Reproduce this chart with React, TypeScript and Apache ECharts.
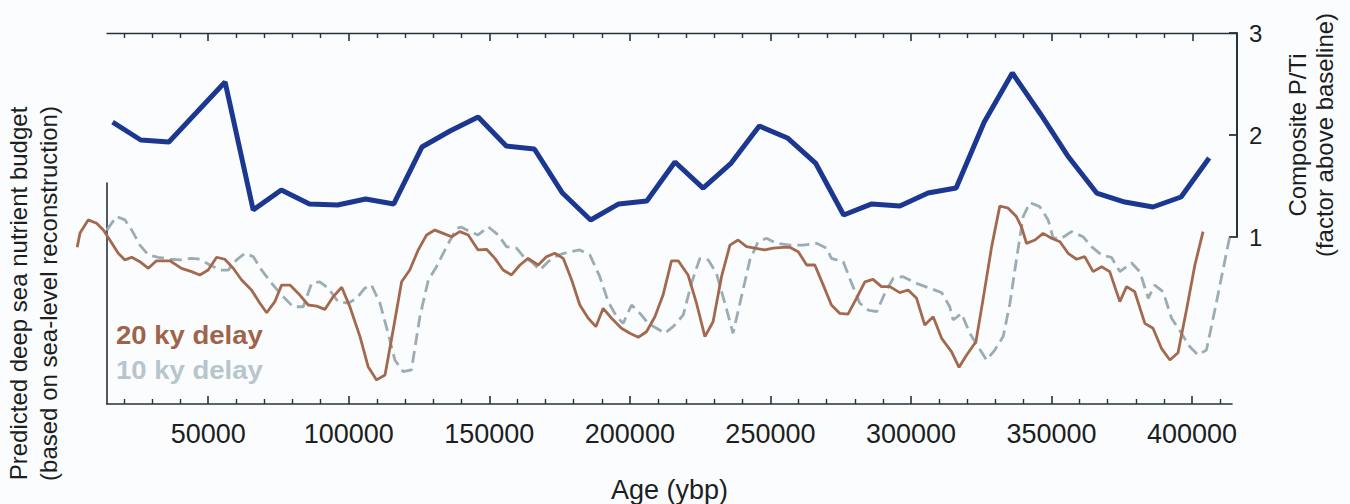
import React, { useEffect, useRef } from "react";
import * as echarts from "echarts";

const FONT = "'Liberation Sans', Arial, Helvetica, sans-serif";
const AXIS_COLOR = "#26333a";
const TEXT_COLOR = "#1b1f22";

// Age axis ticks (ybp)
const majorTicks = [50000, 100000, 150000, 200000, 250000, 300000, 350000, 400000];
const bottomMinorTicks = [
  20000, 30000, 40000, 60000, 70000, 80000, 90000, 110000, 120000, 130000, 140000,
  160000, 170000, 180000, 190000, 210000, 220000, 230000, 240000, 260000, 270000, 280000,
  290000, 310000, 320000, 330000, 340000, 360000, 370000, 380000, 390000, 410000,
];
const topMinorTicks = [
  20000, 30000, 40000, 60000, 70000, 80000, 90000, 110000, 120000, 130000, 140000,
  160000, 170000, 180000, 190000, 210000, 220000, 230000, 240000, 260000, 270000, 280000,
  290000, 310000, 320000, 330000, 340000, 360000, 370000, 380000, 390000,
];

// Composite P/Ti (factor above baseline)
const ptiAges = [
  16000, 26000, 36000, 46000, 56000, 66000, 76000, 86000, 96000, 106000, 116000, 126000,
  136000, 146000, 156000, 166000, 176000, 186000, 196000, 206000, 216000, 226000, 236000,
  246000, 256000, 266000, 276000, 286000, 296000, 306000, 316000, 326000, 336000, 346000,
  356000, 366000, 376000, 386000, 396000, 406000,
];
const ptiValues = [
  2.127, 1.951, 1.931, 2.225, 2.52, 1.265, 1.461, 1.324, 1.314, 1.373, 1.324, 1.882,
  2.039, 2.176, 1.892, 1.863, 1.431, 1.167, 1.324, 1.353, 1.735, 1.48, 1.725,
  2.088, 1.971, 1.725, 1.216, 1.324, 1.304, 1.431, 1.48, 2.127, 2.608, 2.206,
  1.784, 1.431, 1.343, 1.294, 1.392, 1.775,
];

// Predicted deep sea nutrient budget, 20 ky delay (relative units)
const delay20Ages = [
  3400, 4400, 7300, 10300, 12700, 15000, 18000, 20400, 22800, 25700, 28700, 31600, 36400,
  40500, 44100, 47000, 50000, 53000, 55900, 58900, 61900, 65400, 68400, 70800, 73700, 76100,
  79100, 82600, 85600, 88600, 91500, 94500, 97500, 100400, 104000, 106900, 109900, 112900,
  115800, 118800, 121700, 124700, 127700, 130600, 133600, 136600, 139500, 142500, 146000,
  149000, 152000, 154900, 157900, 160900, 163800, 167400, 170400, 173300, 176300, 179300,
  182200, 185200, 187900, 190500, 193500, 197000, 200000, 203000, 205900, 208900, 211800,
  214800, 217200, 220700, 223700, 226700, 229600, 232600, 235600, 238500, 241500, 244500,
  248000, 251000, 254500, 256900, 259900, 262900, 265800, 268800, 271700, 274700, 277600,
  280600, 283600, 286500, 289500, 292500, 296000, 299000, 302000, 304900, 307900, 310900,
  314400, 317100, 319800, 323100, 325700, 328700, 331600, 334600, 337500, 339300, 341100,
  344100, 347000, 350000, 353000, 355900, 358900, 361800, 364800, 367800, 370700, 374300,
  376700, 379600, 383200, 386100, 389100, 392100, 395000, 398000, 401000, 403900,
];
const delay20Values = [
  0.709, 0.774, 0.833, 0.818, 0.787, 0.742, 0.682, 0.652, 0.664, 0.644, 0.614, 0.648, 0.648,
  0.614, 0.599, 0.584, 0.606, 0.664, 0.655, 0.614, 0.561, 0.516, 0.456, 0.413, 0.463, 0.538,
  0.538, 0.493, 0.448, 0.443, 0.428, 0.486, 0.528, 0.44, 0.305, 0.169, 0.109, 0.131,
  0.335, 0.553, 0.606, 0.697, 0.765, 0.787, 0.772, 0.757, 0.78, 0.765, 0.697,
  0.7, 0.659, 0.606, 0.584, 0.629, 0.659, 0.629, 0.667, 0.682, 0.659, 0.561,
  0.448, 0.388, 0.35, 0.433, 0.388, 0.343, 0.32, 0.302, 0.327, 0.395, 0.493,
  0.648, 0.648, 0.584, 0.456, 0.305, 0.372, 0.576, 0.719, 0.742, 0.712, 0.705,
  0.697, 0.705, 0.709, 0.709, 0.689, 0.629, 0.629, 0.538, 0.448, 0.41, 0.407,
  0.478, 0.553, 0.564, 0.531, 0.531, 0.504, 0.516, 0.478, 0.357, 0.395, 0.297,
  0.237, 0.166, 0.222, 0.282, 0.478, 0.712, 0.896, 0.886, 0.848, 0.802, 0.727,
  0.742, 0.772, 0.75, 0.734, 0.682, 0.655, 0.667, 0.599, 0.621, 0.599, 0.463,
  0.531, 0.508, 0.365, 0.343, 0.252, 0.199, 0.232, 0.425, 0.629, 0.78,
];

// Predicted deep sea nutrient budget, 10 ky delay (relative units)
const delay10Ages = [
  13900, 17400, 20400, 22800, 25700, 28700, 32200, 36400, 39900, 44100, 47000, 50600, 54200,
  57100, 60100, 63100, 66000, 69000, 72600, 76100, 80200, 83800, 86800, 89700, 92700, 96200,
  99800, 102800, 105700, 108100, 111100, 114000, 116400, 119400, 122300, 125300, 128300,
  131200, 134800, 138400, 140100, 143100, 146000, 149600, 153200, 156100, 159700, 162700,
  165000, 168000, 170900, 174500, 178700, 182200, 185800, 189300, 192300, 195300, 197600,
  200600, 203600, 206500, 209500, 212400, 215400, 219000, 221900, 224900, 227900, 230800,
  233800, 236700, 239700, 242700, 245600, 248600, 252200, 256900, 261600, 266400, 270000,
  271700, 275900, 278900, 281800, 284800, 287800, 290700, 293700, 297200, 302000, 306700,
  310900, 313800, 315000, 318000, 320900, 323900, 326900, 329800, 332800, 335200, 337500,
  339900, 342300, 345800, 348800, 350600, 353600, 357100, 361200, 364200, 367800, 371300,
  374300, 378500, 381400, 384400, 386700, 389700, 392700, 396200, 399200, 402100, 405100,
  408100, 410500, 413400,
];
const delay10Values = [
  0.787, 0.848, 0.833, 0.787, 0.719, 0.674, 0.664, 0.655, 0.652, 0.659, 0.655, 0.629, 0.606,
  0.606, 0.652, 0.682, 0.667, 0.606, 0.546, 0.493, 0.44, 0.44, 0.546, 0.553, 0.524, 0.463,
  0.456, 0.478, 0.524, 0.538, 0.456, 0.32, 0.199, 0.146, 0.154, 0.395, 0.561,
  0.621, 0.712, 0.795, 0.8, 0.78, 0.765, 0.802, 0.765, 0.712, 0.705, 0.659,
  0.644, 0.606, 0.644, 0.674, 0.689, 0.697, 0.674, 0.576, 0.463, 0.395, 0.365,
  0.448, 0.41, 0.365, 0.343, 0.32, 0.35, 0.403, 0.546, 0.659, 0.652, 0.591,
  0.456, 0.32, 0.486, 0.652, 0.734, 0.75, 0.727, 0.719, 0.719, 0.727, 0.705,
  0.659, 0.644, 0.546, 0.456, 0.425, 0.418, 0.501, 0.569, 0.576, 0.546, 0.524,
  0.504, 0.44, 0.38, 0.41, 0.32, 0.259, 0.199, 0.244, 0.305, 0.456, 0.652,
  0.848, 0.911, 0.893, 0.833, 0.75, 0.75, 0.78, 0.757, 0.712, 0.674, 0.664,
  0.599, 0.638, 0.599, 0.478, 0.538, 0.508, 0.388, 0.32, 0.259, 0.222, 0.244,
  0.425, 0.576, 0.757,
];

const zip = (xs: number[], ys: number[]) => xs.map((x, i) => [x, ys[i]]);

const baseAxisLabelFmt = (v: number) => String(v);

// Plot-area geometry (pixels)
const PX_PER_YEAR = 1125 / (414200 - 14000);
const AXIS_MIN = 14000;
const AXIS_MAX = 414200;
const PLOT_LEFT = 107;
// hidden, wider x-range for model curves (the 20 ky curve starts before the axis)
const MODEL_MIN = 0;
const MODEL_LEFT = PLOT_LEFT - (AXIS_MIN - MODEL_MIN) * PX_PER_YEAR;
const MODEL_WIDTH = (AXIS_MAX - MODEL_MIN) * PX_PER_YEAR;

function buildOption(): any {
  const axisLine = { show: true, onZero: false, lineStyle: { color: AXIS_COLOR, width: 1.6 } };
  const hidden = {
    axisLine: { show: false, onZero: false },
    axisTick: { show: false },
    axisLabel: { show: false },
    splitLine: { show: false },
  };
  return {
    animation: false,
    backgroundColor: "#fbfcfd",
    textStyle: { fontFamily: FONT },
    grid: [
      { left: PLOT_LEFT, top: 183, width: 1125, height: 221, containLabel: false, outerBoundsMode: "none" },
      { left: PLOT_LEFT, top: 33, width: 1130, height: 204, containLabel: false, outerBoundsMode: "none" },
      { left: MODEL_LEFT, top: 183, width: MODEL_WIDTH, height: 221, containLabel: false, outerBoundsMode: "none" },
    ],
    xAxis: [
      {
        gridIndex: 0,
        type: "value",
        position: "bottom",
        min: AXIS_MIN,
        max: AXIS_MAX,
        axisLine,
        axisTick: {
          show: true,
          inside: true,
          length: 8,
          customValues: majorTicks,
          lineStyle: { color: AXIS_COLOR, width: 1.6 },
        },
        axisLabel: {
          show: true,
          customValues: majorTicks,
          formatter: baseAxisLabelFmt,
          fontSize: 27,
          fontFamily: FONT,
          color: TEXT_COLOR,
          margin: 16,
        },
        splitLine: { show: false },
        name: "Age (ybp)",
        nameLocation: "middle",
        nameGap: 72,
        nameTextStyle: { fontSize: 27, fontFamily: FONT, color: TEXT_COLOR },
      },
      {
        gridIndex: 0,
        type: "value",
        position: "bottom",
        min: AXIS_MIN,
        max: AXIS_MAX,
        axisLine: { show: false, onZero: false },
        axisTick: {
          show: true,
          inside: true,
          length: 5,
          customValues: bottomMinorTicks,
          lineStyle: { color: AXIS_COLOR, width: 1.4 },
        },
        axisLabel: { show: false },
        splitLine: { show: false },
      },
      {
        gridIndex: 1,
        type: "value",
        position: "top",
        min: AXIS_MIN,
        max: 415900,
        axisLine: { show: true, onZero: false, lineStyle: { color: AXIS_COLOR, width: 1.4 } },
        axisTick: {
          show: true,
          inside: true,
          length: 8,
          customValues: majorTicks,
          lineStyle: { color: AXIS_COLOR, width: 1.6 },
        },
        axisLabel: { show: false },
        splitLine: { show: false },
      },
      {
        gridIndex: 1,
        type: "value",
        position: "top",
        min: AXIS_MIN,
        max: 415900,
        axisLine: { show: false, onZero: false },
        axisTick: {
          show: true,
          inside: true,
          length: 5,
          customValues: topMinorTicks,
          lineStyle: { color: AXIS_COLOR, width: 1.4 },
        },
        axisLabel: { show: false },
        splitLine: { show: false },
      },
      {
        gridIndex: 2,
        type: "value",
        position: "bottom",
        min: MODEL_MIN,
        max: AXIS_MAX,
        ...hidden,
      },
    ],
    yAxis: [
      {
        gridIndex: 0,
        type: "value",
        position: "left",
        min: 0,
        max: 1,
        axisLine,
        axisTick: { show: false },
        axisLabel: { show: false },
        splitLine: { show: false },
        name: "Predicted deep sea nutrient budget\n(based on sea-level reconstruction)",
        nameLocation: "middle",
        nameRotate: 90,
        nameGap: 44,
        nameTextStyle: { fontSize: 24, lineHeight: 30, fontFamily: FONT, color: TEXT_COLOR },
      },
      {
        gridIndex: 1,
        type: "value",
        position: "right",
        min: 1,
        max: 3,
        interval: 1,
        axisLine: { show: true, onZero: false, lineStyle: { color: AXIS_COLOR, width: 2 } },
        axisTick: { show: true, inside: true, length: 8, lineStyle: { color: AXIS_COLOR, width: 1.8 } },
        axisLabel: { show: true, fontSize: 24, fontFamily: FONT, color: TEXT_COLOR, margin: 12 },
        splitLine: { show: false },
        name: "Composite P/Ti\n(factor above baseline)",
        nameLocation: "middle",
        nameRotate: 90,
        nameGap: 47,
        nameTextStyle: { fontSize: 24, lineHeight: 27, fontFamily: FONT, color: TEXT_COLOR },
      },
      {
        gridIndex: 2,
        type: "value",
        position: "left",
        min: 0,
        max: 1,
        ...hidden,
      },
    ],
    series: [
      {
        name: "10 ky delay",
        type: "line",
        xAxisIndex: 4,
        yAxisIndex: 2,
        data: zip(delay10Ages, delay10Values),
        showSymbol: false,
        symbol: "none",
        clip: false,
        lineStyle: { color: "#9cacb4", width: 2.8, type: [12, 6] },
        z: 2,
      },
      {
        name: "20 ky delay",
        type: "line",
        xAxisIndex: 4,
        yAxisIndex: 2,
        data: zip(delay20Ages, delay20Values),
        showSymbol: false,
        symbol: "none",
        clip: false,
        lineStyle: { color: "#a2694f", width: 2.8 },
        z: 3,
      },
      {
        name: "Composite P/Ti",
        type: "line",
        xAxisIndex: 2,
        yAxisIndex: 1,
        data: zip(ptiAges, ptiValues),
        showSymbol: false,
        symbol: "none",
        clip: false,
        lineStyle: { color: "#1c3790", width: 5 },
        z: 4,
      },
    ],
    graphic: [
      {
        type: "text",
        x: 116,
        y: 335,
        scaleX: 1.1,
        style: {
          text: "20 ky delay",
          fontSize: 25,
          fontWeight: "bold",
          fontFamily: FONT,
          fill: "#9e644b",
          align: "left",
          verticalAlign: "middle",
        },
      },
      {
        type: "text",
        x: 116,
        y: 370,
        scaleX: 1.1,
        style: {
          text: "10 ky delay",
          fontSize: 25,
          fontWeight: "bold",
          fontFamily: FONT,
          fill: "#b7c5cc",
          align: "left",
          verticalAlign: "middle",
        },
      },
    ],
  };
}

export default function App() {
  const ref = useRef<HTMLDivElement>(null);
  useEffect(() => {
    if (!ref.current) return;
    const chart = echarts.init(ref.current, null, { renderer: "svg" });
    chart.setOption(buildOption());
    return () => chart.dispose();
  }, []);
  return (
    <div
      ref={ref}
      style={{ position: "fixed", left: 0, top: 0, width: 1350, height: 504, background: "#fbfcfd" }}
    />
  );
}
